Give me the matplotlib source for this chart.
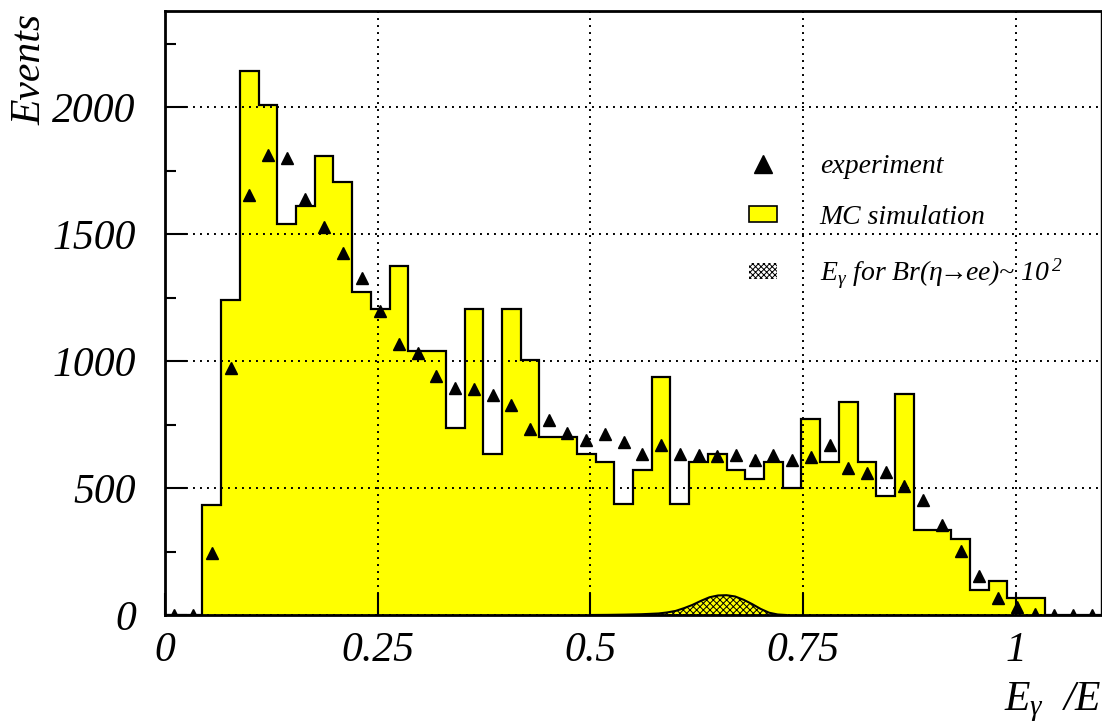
import matplotlib
matplotlib.use("Agg")
import matplotlib.pyplot as plt
import numpy as np
from matplotlib.lines import Line2D
from matplotlib.patches import Patch

plt.rcParams.update({
    "font.family": ["Liberation Serif", "DejaVu Serif"],
    "font.style": "italic",
    "mathtext.fontset": "custom",
    "mathtext.it": "Liberation Serif:italic",
    "mathtext.rm": "Liberation Serif:italic",
    "hatch.linewidth": 0.7,
})

# 50 bins of width 0.022 on [0, 1.1]
bin_width = 0.022
n_bins = 50

mc_counts = [0, 0, 435, 1240, 2145, 2010, 1540, 1610, 1810, 1708,
             1271, 1206, 1374, 1040, 1040, 736, 1206, 636, 1206, 1006,
             703, 703, 636, 602, 437, 570, 939, 437, 602, 636,
             570, 535, 602, 502, 771, 602, 839, 602, 467, 872,
             334, 334, 300, 100, 134, 66, 66, 0, 0, 0]

exp_counts = [0, 0, 243, 973, 1654, 1812, 1799, 1640, 1529, 1427,
              1328, 1196, 1068, 1032, 940, 894, 891, 865, 826, 734,
              769, 717, 688, 713, 681, 635, 668, 634, 629, 626,
              631, 609, 631, 611, 622, 669, 579, 559, 564, 510,
              454, 355, 254, 155, 67, 30, 4, 0, 0, 0]

# E_gamma shape expected for Br(eta -> ee) ~ 1e-2
sig_x = [0.50, 0.52, 0.54, 0.56, 0.58, 0.59, 0.60, 0.61, 0.62, 0.63,
         0.64, 0.65, 0.66, 0.67, 0.68, 0.69, 0.70, 0.71, 0.72, 0.73]
sig_y = [0, 0.5, 1.5, 3, 6, 10, 16, 27, 40, 56,
         70, 77, 78, 73, 60, 43, 24, 9, 2, 0]

x_ticks = [0, 0.25, 0.5, 0.75, 1]
x_ticklabels = ["0", "0.25", "0.5", "0.75", "1"]
y_ticks = [0, 500, 1000, 1500, 2000]

edges = np.arange(n_bins + 1) * bin_width
centers = edges[:-1] + bin_width / 2

fig = plt.figure(figsize=(11.02, 7.28), dpi=100)
ax = fig.add_axes([165 / 1102, 1 - 615 / 728, 936 / 1102, 604 / 728])

ax.stairs(mc_counts, edges, fill=True, color="#FFFF00", zorder=1)
ax.stairs(mc_counts, edges, baseline=0, color="black", lw=1.6, zorder=2)

ax.fill_between(sig_x, sig_y, 0, facecolor="none", edgecolor="black",
                hatch="xxxxx", lw=0, zorder=2)
ax.plot(sig_x, sig_y, color="black", lw=1.5, zorder=2)

ax.plot(centers, exp_counts, linestyle="none", marker="^", color="black",
        markersize=9, zorder=4, clip_on=True)

ax.set_xlim(0, 1.1)
ax.set_ylim(0, 2380)
ax.set_xticks(x_ticks)
ax.set_xticklabels(x_ticklabels)
ax.set_yticks(y_ticks)
ax.set_yticks(np.arange(250, 2380, 500), minor=True)

ax.tick_params(axis="both", which="both", direction="in", top=False,
               right=False, labelsize=30, width=1.5, color="black")
ax.tick_params(axis="x", which="major", length=16, pad=12)
ax.tick_params(axis="y", which="major", length=16, pad=21)
ax.tick_params(axis="y", which="minor", length=8)
ax.tick_params(axis="x", which="minor", bottom=False)

ax.set_axisbelow(False)
ax.grid(True, which="major", color="black", linestyle=(0, (1, 2.6)), lw=1.4)

for side in ("left", "bottom", "top"):
    ax.spines[side].set_linewidth(2.0)
ax.spines["right"].set_linewidth(1.0)

fig.text(30 / 1102, 1 - 14 / 728, "Events", fontsize=30, rotation=90,
         ha="center", va="top")
ax.set_xlabel(r"$E_{\mathrm{\gamma}}$  /E", fontsize=30, loc="right")
ax.xaxis.set_label_coords(1.0, -0.108)

handles = [
    Line2D([], [], linestyle="none", marker="^", color="black", markersize=13),
    Patch(facecolor="#FFFF00", edgecolor="black", lw=1.2),
    Patch(facecolor="white", edgecolor="black", hatch="xxxxxx", lw=0),
]
labels = ["experiment", "MC simulation",
          r"$E_{\mathrm{\gamma}}$ for Br(η$\!\!\rightarrow\!\!$ee)~ 10$^{\,2}$"]
ax.legend(handles, labels, loc="upper left", bbox_to_anchor=(0.612, 0.782),
          frameon=False, fontsize=20, handlelength=1.0, handleheight=0.5,
          handletextpad=1.55, labelspacing=0.95, borderaxespad=0)

fig.savefig("out.png", dpi=100)
